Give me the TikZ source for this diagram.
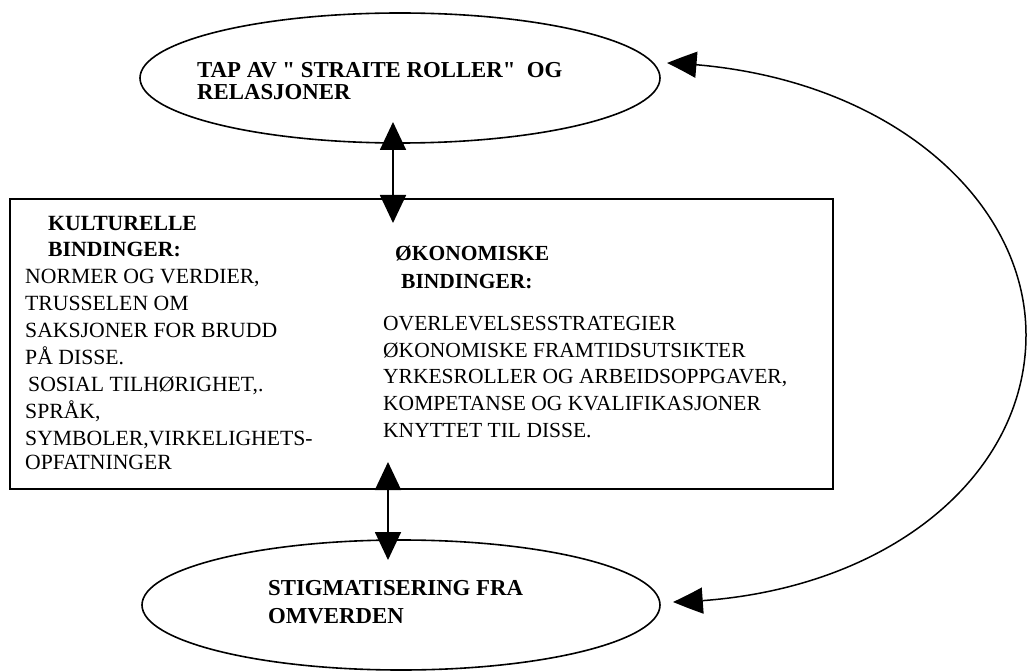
\documentclass[tikz,border=0pt]{standalone}
\usepackage{fontspec}
\setmainfont{Liberation Serif}[Ligatures=TeXOff]
\usetikzlibrary{shapes.geometric,arrows.meta,bending}
\begin{document}
\begin{tikzpicture}[x=1pt,y=-1pt,
  oval/.style={draw,ellipse,line width=1.6pt,inner sep=0pt,minimum width=520pt,minimum height=130pt},
  frame/.style={draw,rectangle,line width=1.6pt,inner sep=0pt,minimum width=823pt,minimum height=290pt},
  txt/.style={anchor=base west,inner sep=0pt,font=\fontsize{21.7}{22}\selectfont},
  hd/.style={txt,font=\fontsize{21.7}{22}\selectfont\bfseries},
  rtxt/.style={txt,font=\fontsize{21.5}{22}\selectfont},
  rhd/.style={txt,font=\fontsize{21.5}{22}\selectfont\bfseries},
  ohd/.style={txt,font=\fontsize{22.8}{22}\selectfont\bfseries},
  arr/.style={line width=1.8pt,{Triangle[width=26pt,length=28pt]}-{Triangle[width=26pt,length=28pt]}},
  loopline/.style={line width=1.5pt,{Triangle[width=26pt,length=30pt,bend]}-{Triangle[width=26pt,length=30pt,bend]}}]
\useasboundingbox (0,0) rectangle (1028,671);
% shapes
\node[oval] (top) at (400,78) {};
\node[frame] (box) at (421.5,344) {};
\node[oval,minimum width=518pt] (bot) at (401,605) {};
% texts
\node[ohd] (t1) at (197,78) {TAP AV " STRAITE ROLLER"\ \ OG};
\node[ohd] (t2) at (197,100) {RELASJONER};
\node[ohd] (b1) at (268,595) {STIGMATISERING FRA};
\node[ohd] (b2) at (268,623) {OMVERDEN};
\node[hd] (k1) at (48,230) {KULTURELLE};
\node[hd] (k2) at (48,256) {BINDINGER:};
\node[txt] (k3) at (25,283) {NORMER OG VERDIER,};
\node[txt] (k4) at (25,310) {TRUSSELEN OM};
\node[txt] (k5) at (25,337) {SAKSJONER FOR BRUDD};
\node[txt] (k6) at (25,364) {PÅ DISSE.};
\node[txt] (k7) at (28,391) {SOSIAL TILHØRIGHET,.};
\node[txt] (k8) at (25,418) {SPRÅK,};
\node[txt] (k9) at (25,445) {SYMBOLER,VIRKELIGHETS-};
\node[txt] (k10) at (25,469) {OPFATNINGER};
\node[rhd] (o1) at (395,260) {ØKONOMISKE};
\node[rhd] (o2) at (401,288) {BINDINGER:};
\node[rtxt] (o3) at (383,330) {OVERLEVELSESSTRATEGIER};
\node[rtxt] (o4) at (383,357) {ØKONOMISKE FRAMTIDSUTSIKTER};
\node[rtxt] (o5) at (383,383) {YRKESROLLER OG ARBEIDSOPPGAVER,};
\node[rtxt] (o6) at (383,410) {KOMPETANSE OG KVALIFIKASJONER};
\node[rtxt] (o7) at (383,437) {KNYTTET TIL DISSE.};
% connector end points
\coordinate (a1) at (393,122);
\coordinate (a2) at (393,223);
\coordinate (a3) at (388,462);
\coordinate (a4) at (388,560);
\coordinate (c1) at (667,63);
\coordinate (c2) at (1026,335);
\coordinate (c3) at (673,602);
% connectors
\draw[arr] (a1) -- (a2);
\draw[arr] (a3) -- (a4);
\draw[loopline] (c1) .. controls (880,70) and (1026,195) .. (c2) .. controls (1026,480) and (880,598) .. (c3);
\end{tikzpicture}
\end{document}
